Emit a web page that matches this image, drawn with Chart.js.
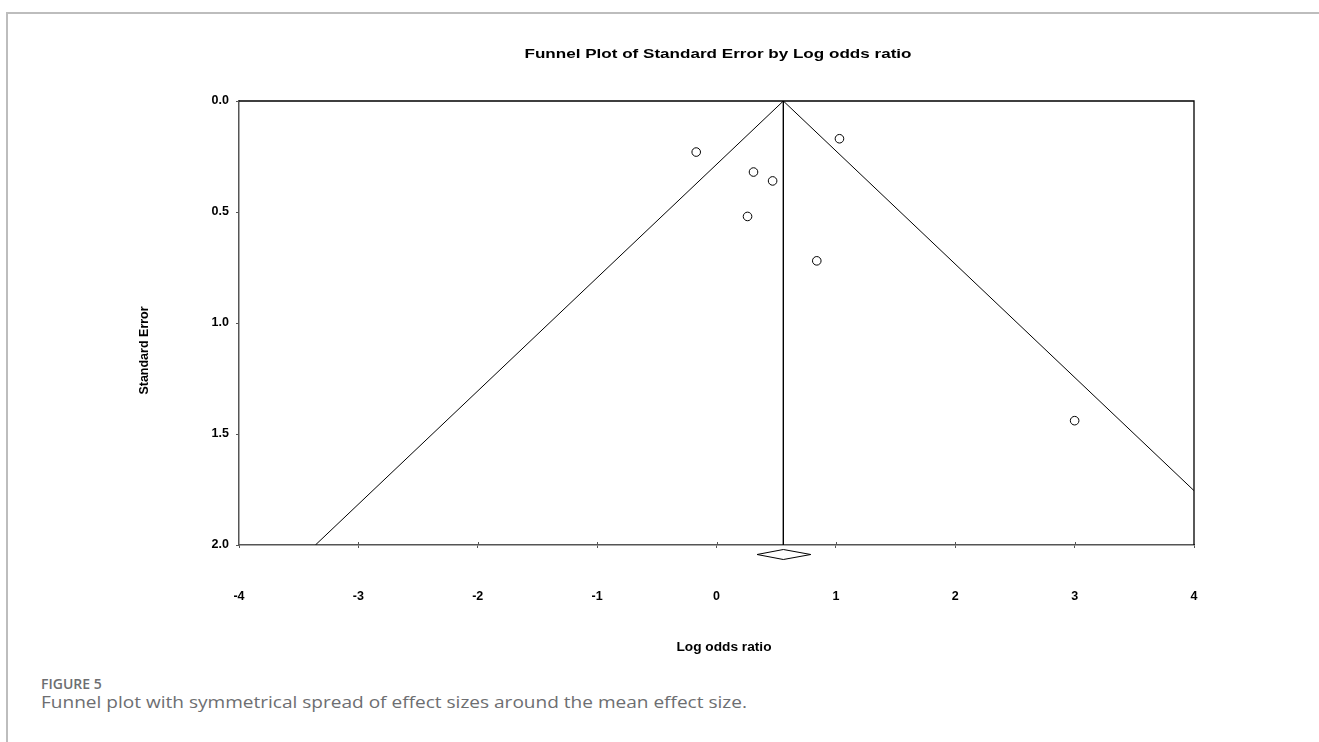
<!DOCTYPE html>
<html>
<head>
<meta charset="utf-8">
<script src="https://cdn.jsdelivr.net/npm/chart.js@4/dist/chart.umd.min.js"></script>
<style>
  html, body { margin: 0; padding: 0; background: #fff; }
  body { width: 1319px; height: 742px; position: relative; overflow: hidden; }
  #frame { position: absolute; left: 6px; top: 12px; width: 1330px; height: 760px;
           border-left: 2px solid #bdbdbd; border-top: 2px solid #bdbdbd; }
  #plot { position: absolute; left: 0; top: 0; }
  .fig-label { position: absolute; left: 41px; top: 677px; margin: 0; line-height: 1;
               font-family: "Open Sans", sans-serif; font-weight: 600; font-size: 14px; color: #6d6e71; }
  .fig-caption { position: absolute; left: 41px; top: 694px; margin: 0; line-height: 1;
                 font-family: "Open Sans", sans-serif; font-size: 16px; color: #6d6e71; white-space: nowrap;
                 transform-origin: 0 0; transform: scaleX(1.19); }
</style>
</head>
<body>
<div id="frame"></div>
<canvas id="plot" width="1319" height="670"></canvas>
<p class="fig-label">FIGURE 5</p>
<p class="fig-caption">Funnel plot with symmetrical spread of effect sizes around the mean effect size.</p>

<script>
// Individual studies: log odds ratio and its standard error
const studyLogOR = [-0.17, 1.03, 0.31, 0.47, 0.26, 0.84, 3.00];
const studySE    = [0.23, 0.17, 0.32, 0.36, 0.52, 0.72, 1.44];

// Pooled estimate and its 95% interval (summary diamond)
const pooledLogOR = 0.56;
const pooledCI    = [0.34, 0.79];

// Pseudo 95% confidence limits of the funnel (apex at SE = 0, base at SE = 2)
const funnelLowerX = [0.56, -3.36];
const funnelUpperX = [0.56, 4.48];
const funnelSE     = [0, 2];
const meanLineSE   = [0, 2];

// Axis ticks
const xTicks = [-4, -3, -2, -1, 0, 1, 2, 3, 4];
const yTicks = [0.0, 0.5, 1.0, 1.5, 2.0];

const chartTitle = 'Funnel Plot of Standard Error by Log odds ratio';
const xTitle = 'Log odds ratio';
const yTitle = 'Standard Error';

const FONT = '"Liberation Sans", Arial, sans-serif';
const AXIS_GREY = '#555555';

const toPoints = (xs, ys) => xs.map((x, i) => ({ x: x, y: ys[i] }));

// Draws bold text scaled horizontally to a given width
function drawFittedText(ctx, text, cx, baseline, size, width) {
  ctx.save();
  ctx.font = 'bold ' + size + 'px ' + FONT;
  const natural = ctx.measureText(text).width;
  const sx = width / natural;
  ctx.translate(cx, baseline);
  ctx.scale(sx, 1);
  ctx.textAlign = 'center';
  ctx.textBaseline = 'alphabetic';
  ctx.fillStyle = '#000';
  ctx.fillText(text, 0, 0);
  ctx.restore();
}

const decorations = {
  id: 'funnelDecorations',
  afterDraw(chart) {
    const { ctx, chartArea: a, scales } = chart;
    const xs = scales.x;

    ctx.save();
    // top and right frame of the plot box
    ctx.strokeStyle = '#000';
    ctx.lineWidth = 1.3;
    ctx.beginPath();
    ctx.moveTo(a.left, a.top);
    ctx.lineTo(a.right, a.top);
    ctx.lineTo(a.right, a.bottom);
    ctx.stroke();

    // small inner half of the x tick marks
    ctx.strokeStyle = AXIS_GREY;
    ctx.lineWidth = 1;
    xTicks.slice(1, -1).forEach(v => {
      const px = Math.round(xs.getPixelForValue(v)) + 0.5;
      ctx.beginPath();
      ctx.moveTo(px, a.bottom);
      ctx.lineTo(px, a.bottom - 3);
      ctx.stroke();
    });

    // summary diamond under the axis
    const dl = xs.getPixelForValue(pooledCI[0]);
    const dr = xs.getPixelForValue(pooledCI[1]);
    const dm = xs.getPixelForValue(pooledLogOR);
    const dy = a.bottom + 9.5;
    ctx.strokeStyle = '#000';
    ctx.lineWidth = 1;
    ctx.fillStyle = '#fff';
    ctx.beginPath();
    ctx.moveTo(dl, dy);
    ctx.lineTo(dm, dy - 5);
    ctx.lineTo(dr, dy);
    ctx.lineTo(dm, dy + 5);
    ctx.closePath();
    ctx.fill();
    ctx.stroke();
    ctx.restore();

    // titles
    drawFittedText(ctx, chartTitle, 718, 57.5, 13.5, 387);
    drawFittedText(ctx, xTitle, 724, 651, 12.5, 95);

    ctx.save();
    ctx.translate(148, 350.5);
    ctx.rotate(-Math.PI / 2);
    ctx.font = 'bold 12.5px ' + FONT;
    ctx.textAlign = 'center';
    ctx.textBaseline = 'alphabetic';
    ctx.fillStyle = '#000';
    ctx.fillText(yTitle, 0, 0);
    ctx.restore();
  }
};

const lineStyle = {
  showLine: true,
  borderColor: '#000',
  borderWidth: 1,
  pointRadius: 0,
  pointHoverRadius: 0,
  fill: false,
  tension: 0
};

new Chart(document.getElementById('plot'), {
  type: 'scatter',
  data: {
    datasets: [
      Object.assign({ label: 'Lower limit', data: toPoints(funnelLowerX, funnelSE) }, lineStyle),
      Object.assign({ label: 'Upper limit', data: toPoints(funnelUpperX, funnelSE) }, lineStyle),
      Object.assign({ label: 'Mean', data: toPoints([pooledLogOR, pooledLogOR], meanLineSE) }, lineStyle),
      {
        label: 'Studies',
        data: toPoints(studyLogOR, studySE),
        pointStyle: 'circle',
        pointRadius: 4.3,
        pointBackgroundColor: '#fff',
        pointBorderColor: '#000',
        pointBorderWidth: 1,
        showLine: false
      }
    ]
  },
  options: {
    responsive: false,
    devicePixelRatio: 1,
    animation: false,
    events: [],
    layout: { padding: { left: 0, top: 101, right: 125, bottom: 0 } },
    plugins: {
      legend: { display: false },
      title: { display: false },
      tooltip: { enabled: false }
    },
    scales: {
      x: {
        type: 'linear',
        min: -4,
        max: 4,
        afterFit(scale) { scale.height = 125; },
        afterBuildTicks(scale) { scale.ticks = xTicks.map(v => ({ value: v })); },
        ticks: {
          color: '#000',
          font: { family: FONT, size: 12.5, weight: 'bold' },
          padding: 41,
          maxRotation: 0,
          callback: v => String(v)
        },
        grid: { drawOnChartArea: false, drawTicks: true, tickLength: 3, color: AXIS_GREY },
        border: { display: true, color: AXIS_GREY, width: 1.5 }
      },
      y: {
        type: 'linear',
        reverse: true,
        min: 0,
        max: 2,
        afterFit(scale) { scale.width = 239; },
        afterBuildTicks(scale) { scale.ticks = yTicks.map(v => ({ value: v })); },
        ticks: {
          color: '#000',
          font: { family: FONT, size: 12.5, weight: 'bold' },
          padding: 7,
          callback: v => Number(v).toFixed(1)
        },
        grid: { drawOnChartArea: false, drawTicks: true, tickLength: 3, color: AXIS_GREY },
        border: { display: true, color: AXIS_GREY, width: 1.5 }
      }
    }
  },
  plugins: [decorations]
});
</script>
</body>
</html>
